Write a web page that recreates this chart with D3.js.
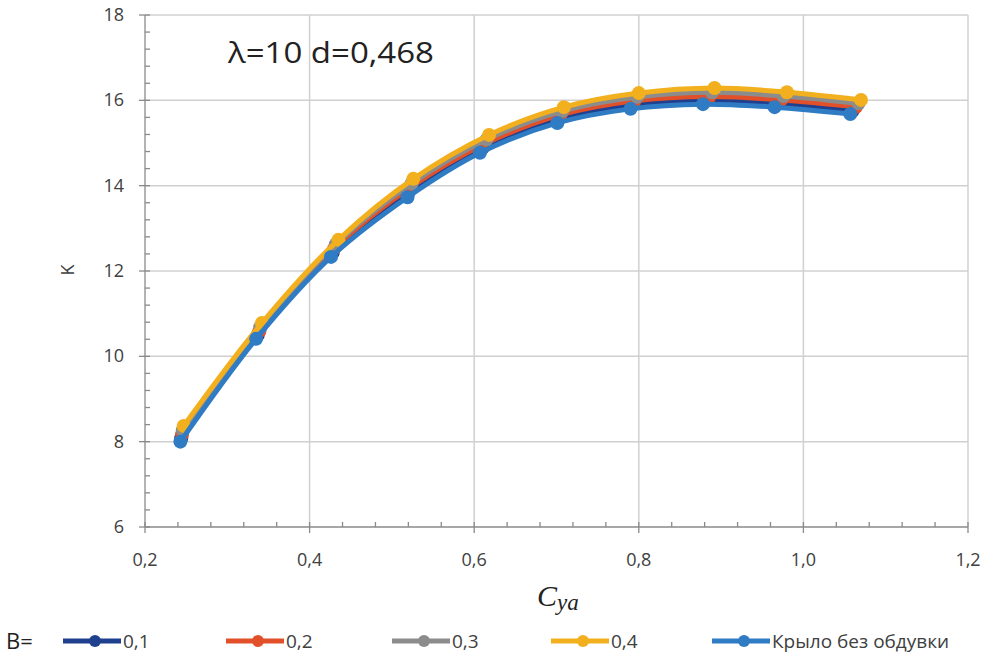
<!DOCTYPE html>
<html>
<head>
<meta charset="utf-8">
<script src="https://cdn.jsdelivr.net/npm/d3@7"></script>
<style>
  body { margin: 0; background: #fff; }
  #drawing-area { width: 989px; height: 664px; }
  text { font-family: "Open Sans", "DejaVu Sans", sans-serif; }
</style>
</head>
<body>
<div id="drawing-area"></div>
<script>
// K vs Cya
var names = ["0,1", "0,2", "0,3", "0,4", "Крыло без обдувки"];
var colors = ["#1f3f8f", "#e2502a", "#8c8c8c", "#f2b01e", "#2f7cc4"];

var cya_01 = [0.244, 0.337, 0.428, 0.520, 0.610, 0.703, 0.793, 0.882, 0.969, 1.060];
var k_01   = [8.08, 10.50, 12.43, 13.84, 14.88, 15.57, 15.90, 16.00, 15.93, 15.76];
var cya_02 = [0.245, 0.339, 0.430, 0.522, 0.613, 0.705, 0.795, 0.886, 0.973, 1.064];
var k_02   = [8.17, 10.59, 12.53, 13.95, 14.98, 15.66, 15.99, 16.09, 16.01, 15.85];
var cya_03 = [0.246, 0.340, 0.432, 0.524, 0.615, 0.707, 0.798, 0.889, 0.976, 1.067];
var k_03   = [8.27, 10.68, 12.63, 14.05, 15.08, 15.75, 16.08, 16.19, 16.10, 15.93];
var cya_04 = [0.247, 0.342, 0.435, 0.526, 0.618, 0.709, 0.800, 0.892, 0.980, 1.070];
var k_04   = [8.37, 10.78, 12.73, 14.16, 15.19, 15.84, 16.17, 16.29, 16.19, 16.01];
var cya_0  = [0.243, 0.335, 0.426, 0.519, 0.607, 0.701, 0.790, 0.878, 0.965, 1.057];
var k_0    = [8.00, 10.41, 12.33, 13.73, 14.77, 15.47, 15.80, 15.91, 15.84, 15.68];

var xTicks = [0.2, 0.4, 0.6, 0.8, 1.0, 1.2];
var yTicks = [6, 8, 10, 12, 14, 16, 18];

var series = [
    { name: names[0], color: colors[0], x: cya_01, y: k_01 },
    { name: names[1], color: colors[1], x: cya_02, y: k_02 },
    { name: names[2], color: colors[2], x: cya_03, y: k_03 },
    { name: names[3], color: colors[3], x: cya_04, y: k_04 },
    { name: names[4], color: colors[4], x: cya_0,  y: k_0 }
];

var sx = 989, sy = 664;
var svg = d3.select('#drawing-area').append('svg').attr('width', sx).attr('height', sy);

var pl = 145, pr = 968, pt = 15, pb = 527;
var x = d3.scaleLinear().domain([0.2, 1.2]).range([pl, pr]);
var y = d3.scaleLinear().domain([6, 18]).range([pb, pt]);

// grid
svg.append("g").selectAll("line").data(xTicks.slice(1)).enter().append("line")
    .attr("x1", d => x(d)).attr("x2", d => x(d)).attr("y1", pt).attr("y2", pb)
    .attr("stroke", "#d0d0d0").attr("stroke-width", 1.5);
svg.append("g").selectAll("line").data(yTicks.slice(1)).enter().append("line")
    .attr("x1", pl).attr("x2", pr).attr("y1", d => y(d)).attr("y2", d => y(d))
    .attr("stroke", "#d0d0d0").attr("stroke-width", 1.5);

// axes
var xMinor = d3.range(0.2, 1.2001, 0.04);
var yMinor = d3.range(6, 18.001, 0.4);
var ax = svg.append("g").attr("stroke", "#8a8a8a").attr("stroke-width", 1.3);
ax.append("line").attr("x1", pl).attr("x2", pr).attr("y1", pb).attr("y2", pb);
ax.append("line").attr("x1", pl).attr("x2", pl).attr("y1", pt).attr("y2", pb);
ax.selectAll(".xm").data(xMinor).enter().append("line")
    .attr("x1", d => x(d)).attr("x2", d => x(d)).attr("y1", pb - 5).attr("y2", pb);
ax.selectAll(".xM").data(xTicks).enter().append("line")
    .attr("x1", d => x(d)).attr("x2", d => x(d)).attr("y1", pb).attr("y2", pb + 6);
ax.selectAll(".ym").data(yMinor).enter().append("line")
    .attr("x1", pl).attr("x2", pl + 5).attr("y1", d => y(d)).attr("y2", d => y(d));
ax.selectAll(".yM").data(yTicks).enter().append("line")
    .attr("x1", pl - 6).attr("x2", pl).attr("y1", d => y(d)).attr("y2", d => y(d));

var fmt = d3.format(".1f");
svg.append("g").selectAll("text").data(xTicks).enter().append("text")
    .attr("x", d => x(d)).attr("y", 566).attr("text-anchor", "middle")
    .attr("font-size", 18).attr("fill", "#404040")
    .text(d => fmt(d).replace(".", ","));
svg.append("g").selectAll("text").data(yTicks).enter().append("text")
    .attr("x", 124).attr("y", d => y(d) + 6).attr("text-anchor", "end")
    .attr("font-size", 18).attr("fill", "#404040")
    .text(d => d);

// axis titles
var xt = svg.append("text").attr("x", 537).attr("y", 606)
    .style("font-family", "'Liberation Serif', 'DejaVu Serif', serif")
    .attr("font-style", "italic").attr("font-size", 30).attr("fill", "#222");
xt.append("tspan").text("C");
xt.append("tspan").attr("font-size", 23).attr("dy", 4).text("ya");
svg.append("text").attr("transform", "translate(74,270) rotate(-90)")
    .attr("text-anchor", "middle").attr("font-size", 18).attr("fill", "#404040").text("K");

svg.append("text").attr("x", 228).attr("y", 63).attr("font-size", 30).attr("fill", "#222")
    .attr("textLength", 206).attr("lengthAdjust", "spacingAndGlyphs")
    .text("λ=10 d=0,468");

// lines
var line = d3.line().x(d => x(d[0])).y(d => y(d[1])).curve(d3.curveCatmullRom.alpha(0.5));
series.forEach(function (s) {
    var pts = s.x.map(function (v, i) { return [v, s.y[i]]; });
    var g = svg.append("g");
    g.append("path").attr("d", line(pts)).attr("fill", "none")
        .attr("stroke", s.color).attr("stroke-width", 5).attr("stroke-linejoin", "round");
    g.selectAll("circle").data(pts).enter().append("circle")
        .attr("cx", d => x(d[0])).attr("cy", d => y(d[1])).attr("r", 7)
        .attr("fill", s.color);
});

// legend
svg.append("text").attr("x", 6).attr("y", 649).attr("font-size", 22).attr("fill", "#222").text("B=");
var lx = [63, 226, 392, 551, 712];
series.forEach(function (s, i) {
    var g = svg.append("g");
    g.append("line").attr("x1", lx[i]).attr("x2", lx[i] + 58).attr("y1", 641).attr("y2", 641)
        .attr("stroke", s.color).attr("stroke-width", 5);
    g.append("circle").attr("cx", lx[i] + 32).attr("cy", 641).attr("r", 6).attr("fill", s.color);
    g.append("text").attr("x", lx[i] + 60).attr("y", 648).attr("font-size", 19).attr("fill", "#404040")
        .text(s.name);
});
</script>
</body>
</html>
